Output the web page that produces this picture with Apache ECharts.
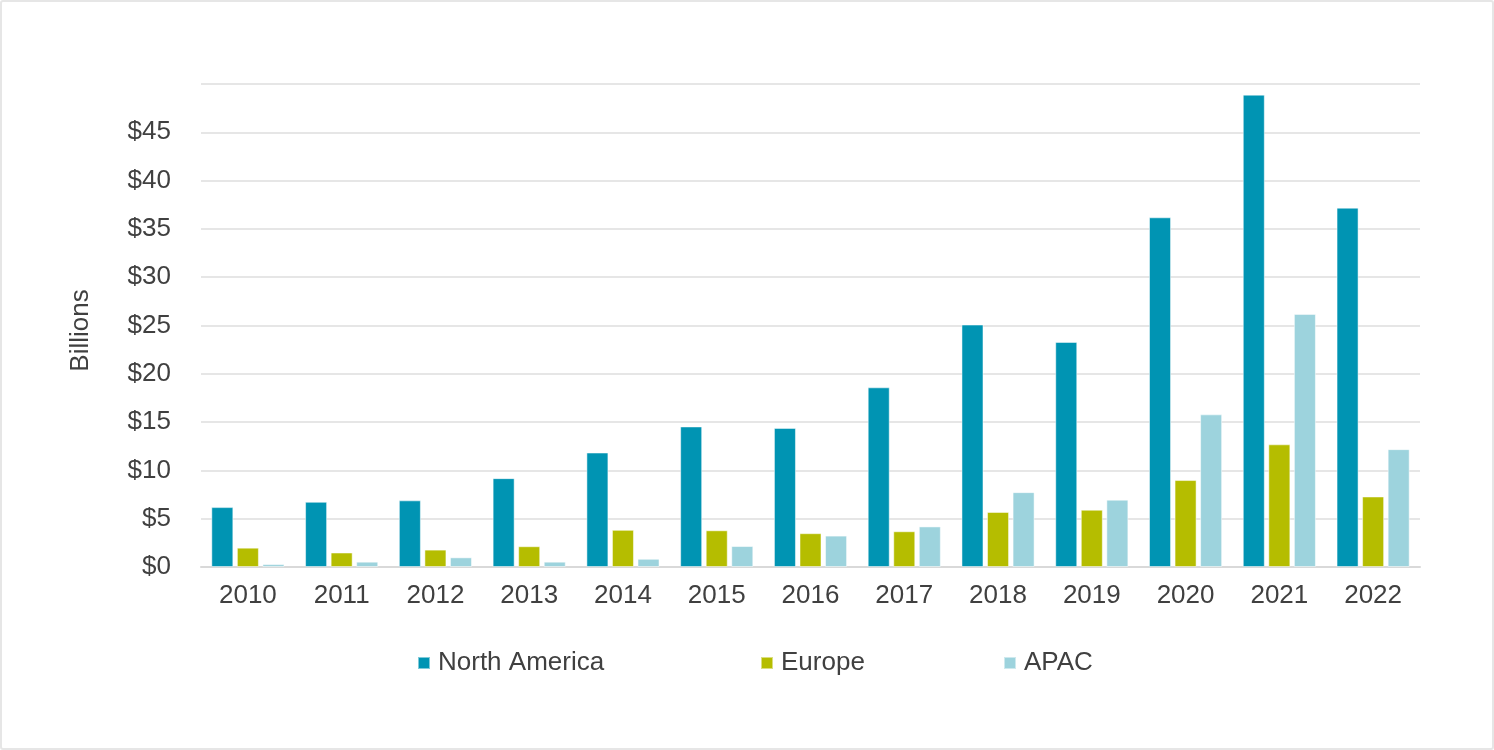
<!DOCTYPE html>
<html>
<head>
<meta charset="utf-8">
<script src="https://cdn.jsdelivr.net/npm/echarts@6/dist/echarts.min.js"></script>
<style>
html,body{margin:0;padding:0;background:#fff;}
#wrap{position:absolute;left:0;top:0;width:1490px;height:746px;border:2px solid #e6e6e6;border-radius:3px;}
#chart{width:1490px;height:746px;}
</style>
</head>
<body>
<div id="wrap"><div id="chart"></div></div>
<script>
const years = ['2010','2011','2012','2013','2014','2015','2016','2017','2018','2019','2020','2021','2022'];
const northAmerica = [6.2, 6.75, 6.9, 9.2, 11.85, 14.55, 14.4, 18.6, 25.1, 23.3, 36.2, 48.9, 37.2];
const europe = [2.0, 1.5, 1.8, 2.15, 3.85, 3.8, 3.5, 3.7, 5.7, 5.93, 9.0, 12.7, 7.3];
const apac = [0.3, 0.55, 1.0, 0.55, 0.85, 2.17, 3.25, 4.2, 7.75, 6.97, 15.8, 26.2, 12.2];
const yTicks = ['$0','$5','$10','$15','$20','$25','$30','$35','$40','$45'];

const font = 'Liberation Sans, Arial, sans-serif';
const textColor = '#404040';
const chart = echarts.init(document.getElementById('chart'));
function legendAt(name, left){
  return {left: left, top: 648, padding: 0, itemWidth: 12, itemHeight: 12, icon: 'rect', itemGap: 0,
    data: [name], textStyle:{fontFamily: font, fontSize: 26, color: textColor, padding:[0,0,0,3]}};
}
const barBorder = {borderColor: 'rgba(255,255,255,0.5)', borderWidth: 1};
chart.setOption({
  animation: false,
  grid: {left: 199, right: 72, top: 82, bottom: 181, containLabel: false},
  legend: [legendAt('North America', 415), legendAt('Europe', 758), legendAt('APAC', 1001)],
  xAxis: {
    type: 'category', data: years,
    axisLine: {lineStyle: {color: '#d9d9d9', width: 2}},
    axisTick: {show: false},
    axisLabel: {fontFamily: font, fontSize: 26, color: textColor, margin: 16}
  },
  yAxis: {
    type: 'value', min: 0, max: 50, interval: 5,
    name: 'Billions', nameLocation: 'middle', nameGap: 107, nameRotate: 90,
    nameTextStyle: {fontFamily: font, fontSize: 26, color: textColor, padding: [0, 10, 0, 0]},
    axisLine: {show: false}, axisTick: {show: false},
    splitLine: {lineStyle: {color: '#e6e6e6', width: 2}},
    axisLabel: {fontFamily: font, fontSize: 26, color: textColor, margin: 30,
      formatter: function(v){ const i = Math.round(v/5); return i < yTicks.length ? yTicks[i] : ''; }}
  },
  series: [
    {name: 'North America', type: 'bar', data: northAmerica, barGap: '16%', barCategoryGap: '22%',
     itemStyle: Object.assign({color: '#0094B3'}, barBorder)},
    {name: 'Europe', type: 'bar', data: europe,
     itemStyle: Object.assign({color: '#B5BD00'}, barBorder)},
    {name: 'APAC', type: 'bar', data: apac,
     itemStyle: Object.assign({color: '#9DD3DD'}, barBorder)}
  ]
});
</script>
</body>
</html>
